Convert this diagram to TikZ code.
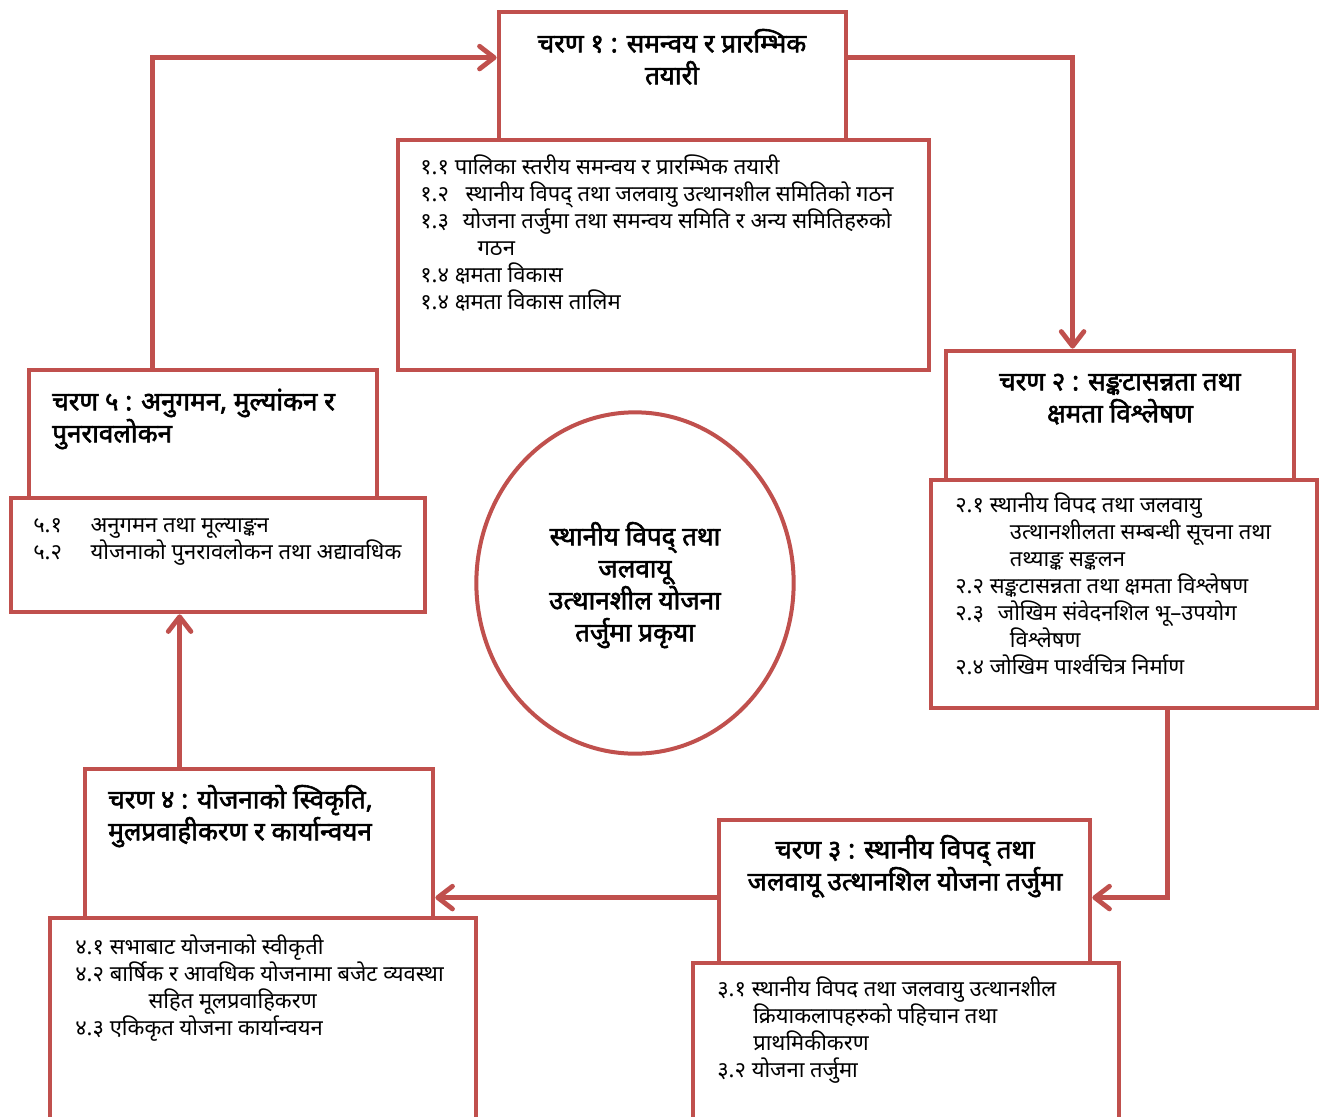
\documentclass[tikz,border=0pt]{standalone}
\usepackage{fontspec}
\usetikzlibrary{fit,calc,arrows.meta,shapes.geometric}
\newfontfamily\dev[Script=Devanagari]{Noto Sans}
\newfontfamily\devb[Script=Devanagari,FakeBold=2.2]{Noto Sans}
\definecolor{boxred}{RGB}{192,80,77}
\newcommand{\tstrut}{\rule{0pt}{24pt}}
\newcommand{\dstrut}{\rule{0pt}{20pt}}
\tikzset{
  box/.style={draw=boxred, line width=3.6pt, fill=white, inner sep=0pt, rectangle},
  arr/.style={draw=boxred, line width=3.6pt, -{Straight Barb[length=11pt,width=17pt,round]}},
  ttl/.style={font=\devb\fontsize{19.5}{24}\selectfont, inner sep=0pt},
  det/.style={font=\dev\fontsize{16.5}{20.25}\selectfont, inner sep=0pt, align=left, anchor=north west},
}
\begin{document}
\begin{tikzpicture}[x=0.75pt,y=-0.75pt]
\useasboundingbox (0,0) rectangle (1324,1117);
\clip (0,0) rectangle (1324,1117);
\fill[white] (0,0) rectangle (1324,1117);
% title boxes
\node[box, fit={(499,12) (846,140)}] (t1) {};
\node[box, fit={(946,351) (1294,480)}] (t2) {};
\node[box, fit={(719,820) (1090,963)}] (t3) {};
\node[box, fit={(85,769) (433,918)}] (t4) {};
\node[box, fit={(29,370) (377,498)}] (t5) {};
% detail boxes
\node[box, fit={(398,140) (929,370)}] (d1) {};
\node[box, fit={(931,480) (1317,708)}] (d2) {};
\node[box, fit={(693,963) (1119,1150)}] (d3) {};
\node[box, fit={(50,918) (476,1150)}] (d4) {};
\node[box, fit={(11,498) (425,612)}] (d5) {};
% centre ellipse
\node[draw=boxred, line width=3pt, ellipse, minimum width=238pt, minimum height=256pt, inner sep=0pt] (c) at (635,583) {};
\node[ttl, align=center, anchor=north] (ct) at (635,513)
  {\tstrut स्थानीय विपद् तथा\\जलवायू\\उत्थानशील योजना\\तर्जुमा प्रकृया};
% titles
\node[ttl, align=center, anchor=north] (tt1) at (672,20) {\tstrut चरण १ : समन्वय र प्रारम्भिक\\तयारी};
\node[ttl, align=center, anchor=north] (tt2) at (1120,358) {\tstrut चरण २ : सङ्कटासन्नता तथा\\क्षमता विश्लेषण};
\node[ttl, align=center, anchor=north] (tt3) at (905,826) {\tstrut चरण ३ : स्थानीय विपद् तथा\\जलवायू उत्थानशिल योजना तर्जुमा};
\node[ttl, align=left, anchor=north west] (tt4) at (108,776) {\tstrut चरण ४ : योजनाको स्विकृति,\\मुलप्रवाहीकरण र कार्यान्वयन};
\node[ttl, align=left, anchor=north west] (tt5) at (52,378) {\tstrut चरण ५ : अनुगमन, मुल्यांकन र\\पुनरावलोकन};
% details
\node[det] (x1) at (420,148) {\dstrut १.१ पालिका स्तरीय समन्वय र प्रारम्भिक तयारी\\
\makebox[34pt][l]{१.२}स्थानीय विपद् तथा जलवायु उत्थानशील समितिको गठन\\
\makebox[32pt][l]{१.३}योजना तर्जुमा तथा समन्वय समिति र अन्य समितिहरुको\\
\hspace*{43pt}गठन\\
१.४ क्षमता विकास\\
१.४ क्षमता विकास तालिम};
\node[det] (x2) at (955,486) {\dstrut २.१ स्थानीय विपद तथा जलवायु\\
\hspace*{41pt}उत्थानशीलता सम्बन्धी सूचना तथा\\
\hspace*{41pt}तथ्याङ्क सङ्कलन\\
२.२ सङ्कटासन्नता तथा क्षमता विश्लेषण\\
\makebox[32pt][l]{२.३}जोखिम संवेदनशिल भू–उपयोग\\
\hspace*{41pt}विश्लेषण\\
२.४ जोखिम पार्श्वचित्र निर्माण};
\node[det] (x3) at (717,970) {\dstrut ३.१ स्थानीय विपद तथा जलवायु उत्थानशील\\
\hspace*{27pt}क्रियाकलापहरुको पहिचान तथा\\
\hspace*{27pt}प्राथमिकीकरण\\
३.२ योजना तर्जुमा};
\node[det] (x4) at (75,928) {\dstrut ४.१ सभाबाट योजनाको स्वीकृती\\
४.२ बार्षिक र आवधिक योजनामा बजेट व्यवस्था\\
\hspace*{55pt}सहित मूलप्रवाहिकरण\\
४.३ एकिकृत योजना कार्यान्वयन};
\node[det] (x5) at (33,506) {\dstrut\makebox[43pt][l]{५.१}अनुगमन तथा मूल्याङ्कन\\
\makebox[43pt][l]{५.२}योजनाको पुनरावलोकन तथा अद्यावधिक};
% connectors
\draw[arr] ($(t5.north west)+(126,0)$) |- ($(t1.north west)+(0,48)$);
\draw[arr] ($(t1.north east)+(0,48)$) -| ($(t2.north west)+(129,0)$);
\draw[arr] ($(d2.south west)+(239,0)$) |- ($(t3.north east)+(0,80)$);
\draw[arr] ($(t3.north west)+(0,80)$) -- ($(t4.north east)+(0,131)$);
\draw[arr] ($(t4.north west)+(97,0)$) -- ($(d5.south west)+(171,0)$);
\end{tikzpicture}
\end{document}
